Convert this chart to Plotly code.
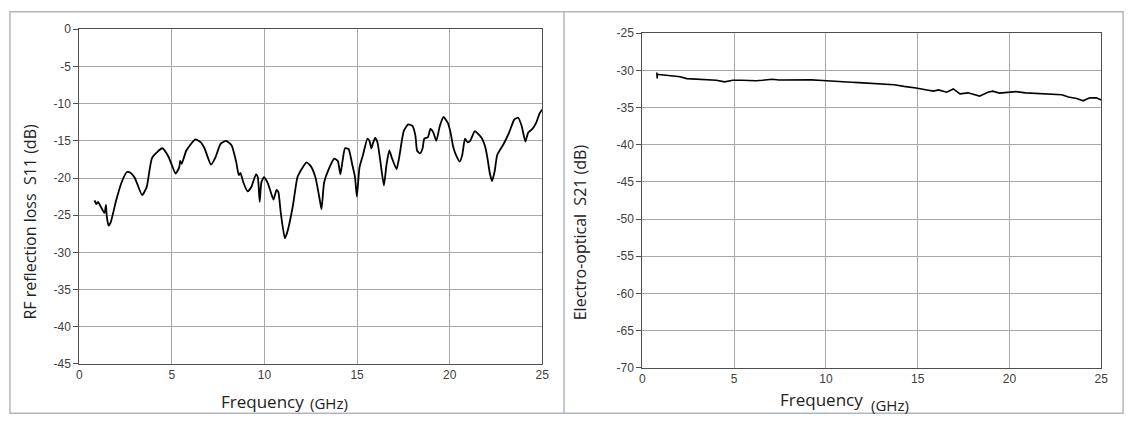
import plotly.graph_objects as go

# ---- Data: RF reflection loss S11 (left) ----
s11_freq = [0.82, 0.92, 1.01, 1.21, 1.36, 1.44, 1.48, 1.58, 1.69, 1.99, 2.28, 2.57, 2.76, 3.00,
            3.39, 3.64, 3.93, 4.48, 4.81, 5.20, 5.39, 5.45, 5.53, 5.78, 6.27, 6.56, 6.76, 7.11,
            7.34, 7.63, 7.92, 8.22, 8.47, 8.61, 8.70, 8.86, 9.09, 9.29, 9.54, 9.64, 9.74, 9.83,
            9.97, 10.16, 10.42, 10.49, 10.65, 10.75, 10.88, 11.10, 11.23, 11.53, 11.78, 12.01,
            12.27, 12.50, 12.75, 12.99, 13.08, 13.22, 13.47, 13.77, 13.96, 14.10, 14.21, 14.35,
            14.54, 14.74, 14.89, 14.99, 15.13, 15.32, 15.56, 15.67, 15.77, 15.85, 15.97, 16.10,
            16.26, 16.45, 16.59, 16.74, 16.88, 17.13, 17.27, 17.52, 17.76, 17.99, 18.15, 18.24,
            18.40, 18.54, 18.63, 18.83, 18.96, 19.12, 19.28, 19.47, 19.67, 19.90, 20.05, 20.19,
            20.34, 20.54, 20.68, 20.83, 20.97, 21.11, 21.36, 21.55, 21.75, 21.94, 22.04, 22.18,
            22.29, 22.43, 22.57, 22.92, 23.21, 23.50, 23.70, 23.89, 24.09, 24.24, 24.47, 24.67,
            24.86, 25.00]
s11_db = [-23.0, -23.5, -23.2, -24.1, -24.7, -23.6, -25.1, -26.4, -26.0, -23.0, -20.6, -19.2, -19.3, -20.0,
          -22.3, -21.2, -17.3, -16.0, -17.1, -19.4, -18.6, -17.7, -18.1, -16.3, -14.8, -15.2, -16.0, -18.2,
          -17.3, -15.4, -15.0, -15.6, -17.8, -19.6, -19.3, -20.6, -21.8, -21.2, -19.5, -19.9, -23.2, -20.6,
          -19.9, -20.6, -22.5, -22.9, -21.6, -21.9, -24.7, -28.1, -27.3, -23.8, -19.9, -18.8,
          -17.9, -18.4, -19.9, -23.0, -24.2, -20.6, -18.8, -17.4, -17.7, -19.5, -17.8, -16.0,
          -16.1, -18.2, -19.9, -22.5, -18.6, -16.9, -14.7, -15.0, -16.0, -15.4, -14.6, -15.2,
          -17.8, -21.0, -18.2, -16.3, -17.3, -18.8, -17.3, -13.7, -12.8, -13.0, -14.3, -16.3,
          -16.7, -16.0, -14.7, -14.5, -13.4, -13.9, -15.0, -13.0, -11.8, -12.6, -13.9, -15.8,
          -16.9, -17.8, -16.9, -14.7, -15.2, -15.0, -13.7, -14.1, -14.7, -16.0, -17.3, -19.5,
          -20.4, -19.1, -16.9, -15.4, -13.9, -12.1, -11.9, -13.0, -15.1, -13.9, -13.4, -12.6,
          -11.3, -10.8]

# ---- Data: Electro-optical S21 (right) ----
s21_freq = [0.79, 0.81, 0.82, 0.90, 1.20, 1.52, 1.80, 2.06, 2.42, 2.90, 3.32, 3.70, 4.03, 4.48,
            4.93, 5.40, 5.82, 6.20, 6.54, 7.08, 7.45, 7.80, 8.40, 8.87, 9.20, 9.59, 10.00,
            10.48, 10.90, 11.38, 11.80, 12.27, 12.70, 13.08, 13.71, 14.25, 14.43, 14.91, 15.50,
            15.86, 16.13, 16.58, 16.94, 17.30, 17.74, 18.10, 18.37, 18.82, 19.09, 19.45, 19.89,
            20.34, 20.88, 21.30, 21.77, 22.20, 22.49, 22.85, 23.21, 23.66, 24.01, 24.37, 24.73,
            24.91, 25.00]
s21_db = [-30.3, -31.1, -30.5, -30.56, -30.62, -30.69, -30.74, -30.86, -31.12, -31.16, -31.21, -31.25,
          -31.34, -31.56, -31.34, -31.33, -31.38, -31.40, -31.34, -31.21, -31.30, -31.30, -31.25,
          -31.21, -31.28, -31.34, -31.38, -31.43, -31.50, -31.60, -31.66, -31.73, -31.78, -31.86,
          -31.95, -32.16, -32.21, -32.38, -32.64, -32.80, -32.64, -32.95, -32.51, -33.16, -33.03,
          -33.25, -33.47, -32.95, -32.80, -33.07, -32.95, -32.86, -33.03, -33.08, -33.16, -33.20,
          -33.25, -33.29, -33.60, -33.80, -34.10, -33.70, -33.70, -33.90, -34.00]

x_ticks = [0, 5, 10, 15, 20, 25]
left_y_ticks = [0, -5, -10, -15, -20, -25, -30, -35, -40, -45]
right_y_ticks = [-25, -30, -35, -40, -45, -50, -55, -60, -65, -70]

W, H = 1141, 429

def px(x):
    return x / W

def py(y):
    return 1 - y / H

fig = go.Figure()
fig.add_trace(go.Scatter(x=s11_freq, y=s11_db, mode="lines",
                         line=dict(color="black", width=1.8, shape="spline", smoothing=0.5),
                         xaxis="x", yaxis="y"))
fig.add_trace(go.Scatter(x=s21_freq, y=s21_db, mode="lines",
                         line=dict(color="black", width=1.6),
                         xaxis="x2", yaxis="y2"))

tickfont = dict(family="Liberation Sans, Arial, sans-serif", size=12, color="#404040")
axis_common = dict(showgrid=True, gridcolor="#a8a8a8", gridwidth=1, showline=True,
                   linecolor="#505050", linewidth=1, mirror=True, zeroline=False,
                   tickfont=tickfont, fixedrange=True, tickmode="array")

fig.update_layout(
    width=W, height=H,
    margin=dict(l=0, r=0, t=0, b=0),
    paper_bgcolor="white", plot_bgcolor="white",
    showlegend=False,
    xaxis=dict(domain=[px(77), px(544)], range=[0, 25], tickvals=x_ticks,
               ticktext=[str(v) for v in x_ticks], anchor="y",
               ticks="", ticklen=0, **axis_common),
    yaxis=dict(domain=[py(369), py(23)], range=[-45, 0], tickvals=left_y_ticks,
               ticktext=[str(v) for v in left_y_ticks], anchor="x",
               ticks="outside", ticklen=5, tickcolor="#505050", **axis_common),
    xaxis2=dict(domain=[px(645), px(1108)], range=[0, 25], tickvals=x_ticks,
                ticktext=[str(v) for v in x_ticks], anchor="y2",
                ticks="", ticklen=0, **axis_common),
    yaxis2=dict(domain=[py(373), py(27)], range=[-70, -25], tickvals=right_y_ticks,
                ticktext=[str(v) for v in right_y_ticks], anchor="x2",
                ticks="outside", ticklen=5, tickcolor="#505050", **axis_common),
)

title_family = "Open Sans, Noto Sans, sans-serif"
annotations = [
    dict(text="RF reflection loss  S11 (dB)", x=px(27), y=py(222), xref="paper", yref="paper",
         textangle=-90, showarrow=False, font=dict(family=title_family, size=16, color="#222222"),
         xanchor="center", yanchor="middle"),
    dict(text="Electro-optical  S21 (dB)", x=px(583), y=py(233), xref="paper", yref="paper",
         textangle=-90, showarrow=False, font=dict(family=title_family, size=16, color="#222222"),
         xanchor="center", yanchor="middle"),
    dict(text="Frequency", x=px(262), y=py(408), xref="paper", yref="paper", showarrow=False,
         font=dict(family=title_family, size=17, color="#222222"),
         xanchor="center", yanchor="middle"),
    dict(text="(GHz)", x=px(329), y=py(409), xref="paper", yref="paper", showarrow=False,
         font=dict(family=title_family, size=15, color="#222222"),
         xanchor="center", yanchor="middle"),
    dict(text="Frequency", x=px(826), y=py(406), xref="paper", yref="paper", showarrow=False,
         font=dict(family=title_family, size=17, color="#222222"),
         xanchor="center", yanchor="middle"),
    dict(text="(GHz)", x=px(895), y=py(411), xref="paper", yref="paper", showarrow=False,
         font=dict(family=title_family, size=15, color="#222222"),
         xanchor="center", yanchor="middle"),
]
fig.update_layout(annotations=annotations)

frame_color = "#b0b6c2"
fig.update_layout(shapes=[
    dict(type="rect", xref="paper", yref="paper", x0=px(7), x1=px(1130), y0=py(420), y1=py(5),
         line=dict(color=frame_color, width=1.5), fillcolor="rgba(0,0,0,0)", layer="below"),
    dict(type="line", xref="paper", yref="paper", x0=px(566), x1=px(566), y0=py(420), y1=py(5),
         line=dict(color=frame_color, width=1.5), layer="below"),
])

fig.write_html("out.html", config={"displayModeBar": False},
               post_script="document.body.style.margin='0';document.body.style.overflow='hidden';")
